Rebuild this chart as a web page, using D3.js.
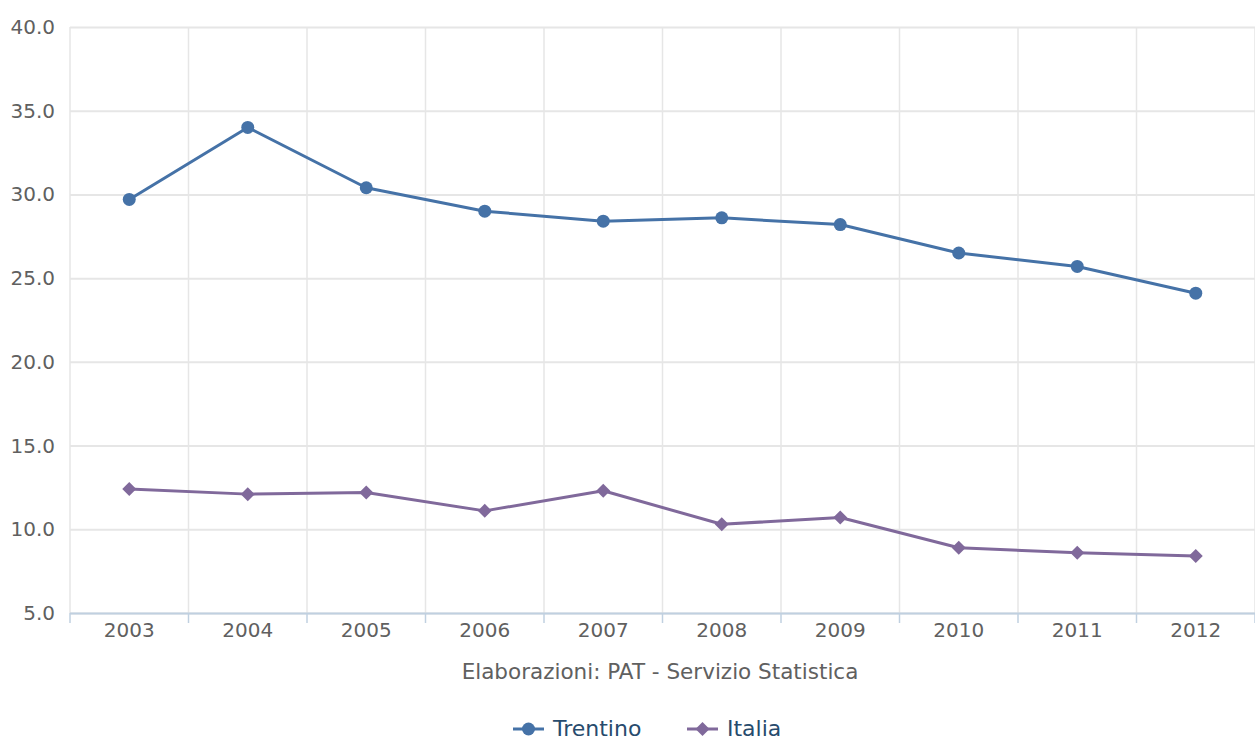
<!DOCTYPE html>
<html><head><meta charset="utf-8">
<script src="https://cdn.jsdelivr.net/npm/d3@7"></script>
<style>body{margin:0;background:#fff}svg{display:block;font-family:"DejaVu Sans",Verdana,sans-serif}</style>
</head><body>
<svg id="c" width="1255" height="740"></svg>
<script>
const years = ["2003","2004","2005","2006","2007","2008","2009","2010","2011","2012"];
const trentino = [29.7,34.0,30.4,29.0,28.4,28.6,28.2,26.5,25.7,24.1];
const italia = [12.4,12.1,12.2,11.1,12.3,10.3,10.7,8.9,8.6,8.4];
const yTicks = [5,10,15,20,25,30,35,40];
const seriesNames = ["Trentino","Italia"];
const colors = ["#4572A7","#80699B"];

const svg = d3.select("#c");
const L=70, R=1255, T=27, B=613;
const x = d3.scaleBand().domain(years).range([L,R]);
const y = d3.scaleLinear().domain([5,40]).range([B,T]);

// horizontal grid
svg.append("g").selectAll("line").data(yTicks).join("line")
  .attr("x1",L).attr("x2",R).attr("y1",d=>y(d)+0.5).attr("y2",d=>y(d)+0.5)
  .attr("stroke","#e6e6e6").attr("stroke-width",2);
// vertical grid
const bounds = years.map(d=>x(d)).concat([R]);
svg.append("g").selectAll("line").data(bounds).join("line")
  .attr("x1",d=>d).attr("x2",d=>d).attr("y1",T).attr("y2",B)
  .attr("stroke","#e6e6e6").attr("stroke-width",1.5);

// y labels
svg.append("g").selectAll("text").data(yTicks).join("text")
  .attr("x",55).attr("y",d=>y(d)).attr("dy","0.35em").attr("text-anchor","end")
  .attr("fill","#606060").attr("font-size",20).text(d=>d.toFixed(1));

// x axis
svg.append("line").attr("x1",L).attr("x2",R).attr("y1",B+0.5).attr("y2",B+0.5)
  .attr("stroke","#C0D0E0").attr("stroke-width",2);
svg.append("g").selectAll("line").data(bounds).join("line")
  .attr("x1",d=>d).attr("x2",d=>d).attr("y1",B).attr("y2",B+10)
  .attr("stroke","#C0D0E0").attr("stroke-width",1.5);
svg.append("g").selectAll("text").data(years).join("text")
  .attr("x",d=>x(d)+x.bandwidth()/2).attr("y",637).attr("text-anchor","middle")
  .attr("fill","#606060").attr("font-size",20).text(d=>d);

const cx = d=>x(d)+x.bandwidth()/2;
const line = d3.line().x((d,i)=>cx(years[i])).y(d=>y(d));

// Italia
svg.append("path").datum(italia).attr("d",line).attr("fill","none")
  .attr("stroke",colors[1]).attr("stroke-width",3).attr("stroke-linejoin","round");
svg.append("g").selectAll("path").data(italia).join("path")
  .attr("transform",(d,i)=>`translate(${cx(years[i])},${y(d)})`)
  .attr("d","M0,-7L7,0L0,7L-7,0Z").attr("fill",colors[1]);

// Trentino
svg.append("path").datum(trentino).attr("d",line).attr("fill","none")
  .attr("stroke",colors[0]).attr("stroke-width",3).attr("stroke-linejoin","round");
svg.append("g").selectAll("circle").data(trentino).join("circle")
  .attr("cx",(d,i)=>cx(years[i])).attr("cy",d=>y(d)).attr("r",6.5).attr("fill",colors[0]);

// credit
svg.append("text").attr("x",660).attr("y",679).attr("text-anchor","middle")
  .attr("fill","#606060").attr("font-size",21.5).text("Elaborazioni: PAT - Servizio Statistica");

// legend
const lg = svg.append("g");
const items = [{n:seriesNames[0],c:colors[0],x:513,m:"circle"},{n:seriesNames[1],c:colors[1],x:687,m:"diamond"}];
items.forEach(it=>{
  const g = lg.append("g").attr("transform",`translate(${it.x},729)`);
  g.append("line").attr("x1",0).attr("x2",31).attr("stroke",it.c).attr("stroke-width",3);
  if(it.m==="circle") g.append("circle").attr("cx",15.5).attr("r",6.5).attr("fill",it.c);
  else g.append("path").attr("d","M15.5,-7L22.5,0L15.5,7L8.5,0Z").attr("fill",it.c);
  g.append("text").attr("x",40).attr("y",0).attr("dy","0.33em").attr("fill","#274b6d")
    .attr("font-size",22).text(it.n);
});
</script>
</body></html>
